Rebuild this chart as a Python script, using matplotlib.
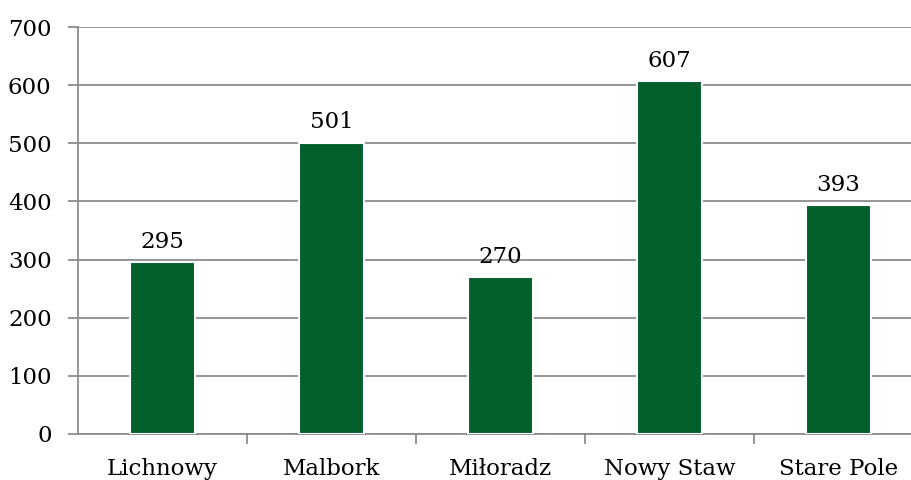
import numpy as np
import matplotlib
matplotlib.use('Agg')
import matplotlib.pyplot as plt

# data
gminy = ['Lichnowy', 'Malbork', 'Miłoradz', 'Nowy Staw', 'Stare Pole']
wartosci = [295, 501, 270, 607, 393]
y_ticks = [0, 100, 200, 300, 400, 500, 600, 700]

plt.rcParams['font.family'] = ['DejaVu Serif']
fs = 16.5

fig = plt.figure(figsize=(9.11, 4.8), dpi=100)
# plot area runs past the right border of the picture (cropped in original)
ax = fig.add_axes([78/911, 46/480, 845/911, 407/480])

x = np.arange(len(gminy))
bars = ax.bar(x, wartosci, width=0.39, color='#03602C', edgecolor='white',
              linewidth=1.5, zorder=3)

for xi, v in zip(x, wartosci):
    ax.text(xi, v + 16, str(v), ha='center', va='bottom', fontsize=fs, color='black')

ax.set_xlim(-0.5, len(gminy) - 0.5)
ax.set_ylim(0, 700)
ax.set_yticks(y_ticks)
ax.set_yticklabels([str(t) for t in y_ticks], fontsize=fs)
ax.yaxis.grid(True, color='#8c8c8c', linewidth=1.3, zorder=0)
ax.tick_params(axis='y', length=7, width=1.3, color='#8c8c8c', pad=12)

ax.set_xticks(x)
ax.set_xticklabels(gminy, fontsize=fs)
ax.set_xticks(np.arange(0.5, len(gminy) - 0.5), minor=True)
ax.tick_params(axis='x', which='major', length=0, pad=17)
ax.tick_params(axis='x', which='minor', length=7, width=1.3, color='#8c8c8c')

for s in ['top', 'right']:
    ax.spines[s].set_visible(False)
for s in ['left', 'bottom']:
    ax.spines[s].set_color('#8c8c8c')
    ax.spines[s].set_linewidth(1.3)

fig.savefig('out.png', dpi=100)
